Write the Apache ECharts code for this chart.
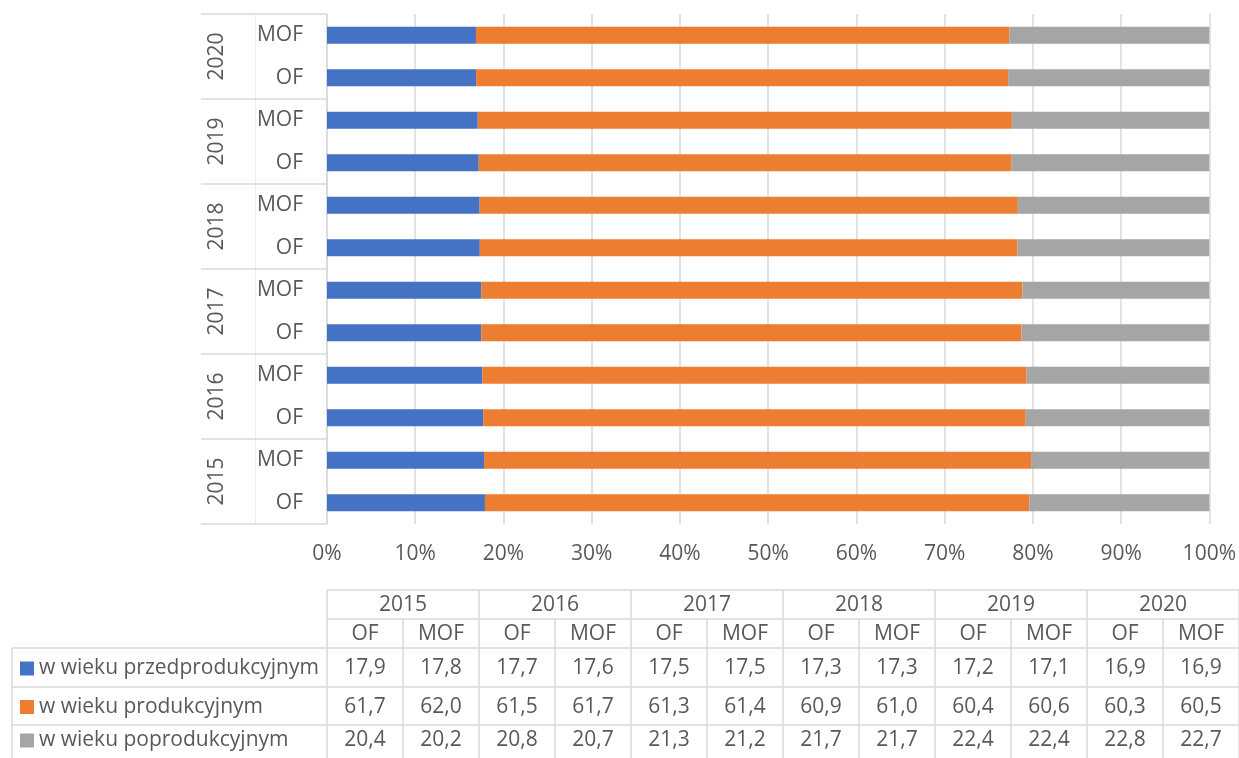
<!DOCTYPE html>
<html>
<head>
<meta charset="utf-8">
<script src="https://cdn.jsdelivr.net/npm/echarts@6/dist/echarts.min.js"></script>
<style>
html,body{margin:0;padding:0;background:#fff;}
#chart{width:1239px;height:758px;}
</style>
</head>
<body>
<div id="chart"></div>
<script>
// ---- data ----
const years = ['2015', '2016', '2017', '2018', '2019', '2020'];
const subCats = ['OF', 'MOF'];
const seriesNames = ['w wieku przedprodukcyjnym', 'w wieku produkcyjnym', 'w wieku poprodukcyjnym'];
// order: 2015 OF, 2015 MOF, 2016 OF, ... 2020 MOF
const przedprodukcyjny = [17.9, 17.8, 17.7, 17.6, 17.5, 17.5, 17.3, 17.3, 17.2, 17.1, 16.9, 16.9];
const produkcyjny      = [61.7, 62.0, 61.5, 61.7, 61.3, 61.4, 60.9, 61.0, 60.4, 60.6, 60.3, 60.5];
const poprodukcyjny    = [20.4, 20.2, 20.8, 20.7, 21.3, 21.2, 21.7, 21.7, 22.4, 22.4, 22.8, 22.7];

// ---- styles ----
const colors = ['#4472C4', '#ED7D31', '#A5A5A5'];
const textColor = '#595959';
const lineColor = '#D9D9D9';
const FONT = 'Open Sans';
const FS = 21;

const categories = [];
years.forEach(y => subCats.forEach(c => categories.push(y + '|' + c)));
const seriesValues = [przedprodukcyjny, produkcyjny, poprodukcyjny];
const totals = categories.map((_, i) => seriesValues.reduce((s, arr) => s + arr[i], 0));
const pct = seriesValues.map(arr => arr.map((v, i) => v / totals[i] * 100));

const chart = echarts.init(document.getElementById('chart'), null, {renderer: 'canvas'});

const grid = {left: 327, right: 28, top: 14, bottom: 234};

const option = {
  animation: false,
  color: colors,
  textStyle: {fontFamily: FONT},
  grid: grid,
  xAxis: {
    type: 'value', min: 0, max: 100, interval: 10,
    axisLine: {show: false}, axisTick: {show: false},
    axisLabel: {formatter: '{value}%', color: textColor, fontSize: FS, fontFamily: FONT, margin: 20},
    splitLine: {lineStyle: {color: lineColor, width: 1.5}}
  },
  yAxis: [
    {
      type: 'category', data: categories, position: 'left',
      axisLine: {show: true, lineStyle: {color: lineColor, width: 1.5}},
      axisTick: {show: false},
      axisLabel: {formatter: v => v.split('|')[1], color: textColor, fontSize: FS, fontFamily: FONT, margin: 24}
    },
    {
      type: 'category', data: years, position: 'left', offset: 0,
      axisLine: {show: false},
      axisTick: {show: true, length: 126, lineStyle: {color: lineColor, width: 1.5}},
      axisLabel: {rotate: 90, color: textColor, fontSize: FS, fontFamily: FONT, margin: 99}
    },
    {
      type: 'category', data: years, position: 'left', offset: 72,
      axisLine: {show: true, lineStyle: {color: '#EDEDED', width: 1}},
      axisTick: {show: false}, axisLabel: {show: false}
    }
  ],
  series: seriesNames.map((name, k) => ({
    name: name, type: 'bar', stack: 'total', yAxisIndex: 0,
    barWidth: 17,
    data: pct[k],
    itemStyle: {color: colors[k]}
  }))
};
chart.setOption(option);

// ---- data table below the chart ----
const tblLeft = 327, colW = 76, labelLeft = 12;
const rowY = [590, 619, 648, 687, 725, 763];
const tblRight = tblLeft + colW * categories.length;
const fmt = v => v.toFixed(1).replace('.', ',');
const g = [];
const line = (x1, y1, x2, y2) => g.push({type: 'line', shape: {x1, y1, x2, y2}, style: {stroke: lineColor, lineWidth: 1.5}, silent: true});
const txt = (x, y, s, align) => g.push({type: 'text', x: x, y: y, style: {text: s, fill: textColor, font: FS + 'px "' + FONT + '"', textAlign: align || 'center', textVerticalAlign: 'middle'}, silent: true});

// horizontal lines
line(tblLeft, rowY[0], tblRight, rowY[0]);
line(tblLeft, rowY[1], tblRight, rowY[1]);
for (let r = 2; r < rowY.length; r++) line(labelLeft, rowY[r], tblRight, rowY[r]);
// vertical lines
line(labelLeft, rowY[2], labelLeft, rowY[5]);
for (let c = 0; c <= categories.length; c++) {
  const x = tblLeft + c * colW;
  const top = (c % 2 === 0) ? rowY[0] : rowY[1];
  line(x, top, x, rowY[5]);
}
// headers
years.forEach((y, i) => txt(tblLeft + (2 * i + 1) * colW, (rowY[0] + rowY[1]) / 2 + 1, y));
categories.forEach((c, i) => txt(tblLeft + (i + 0.5) * colW, (rowY[1] + rowY[2]) / 2 + 1, c.split('|')[1]));
// rows
seriesValues.forEach((arr, r) => {
  const yc = (rowY[r + 2] + Math.min(rowY[r + 3], 758)) / 2 + (r === 2 ? -1 : 1);
  g.push({type: 'rect', shape: {x: 20, y: yc - 7, width: 14, height: 14}, style: {fill: colors[r]}, silent: true});
  txt(39, yc, seriesNames[r], 'left');
  arr.forEach((v, i) => txt(tblLeft + (i + 0.5) * colW, yc, fmt(v)));
});
chart.setOption({graphic: {elements: g}});
</script>
</body>
</html>
